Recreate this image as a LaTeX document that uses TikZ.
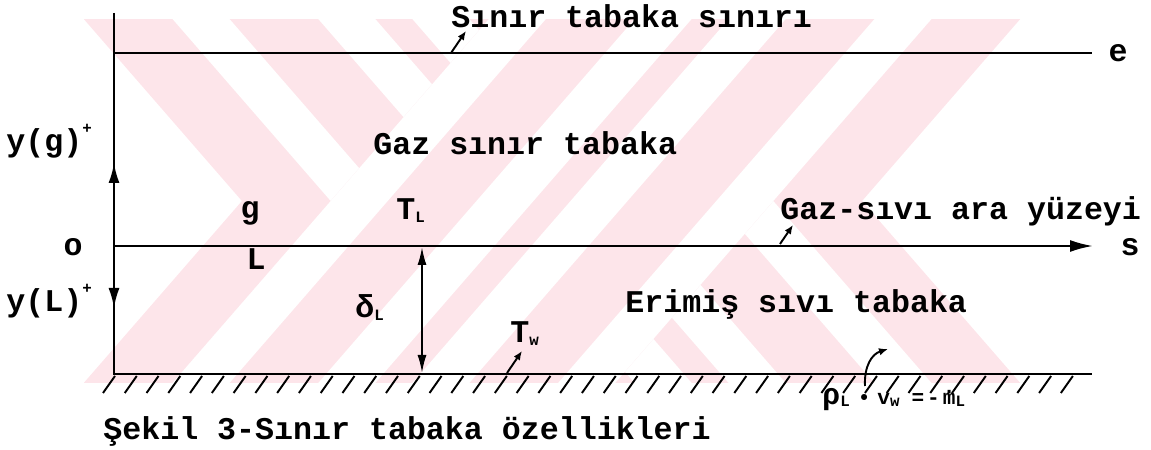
\documentclass[tikz,border=0pt]{standalone}
\usepackage{fontspec}
\setmonofont{Liberation Mono}
\usetikzlibrary{arrows.meta}
\definecolor{WMPink}{RGB}{253,229,234}
\newcommand\sbs[1]{\raisebox{-0.15ex}{\fontsize{9}{9}\selectfont #1}}
\newcommand\sps[1]{\raisebox{1.1ex}{\fontsize{9}{9}\selectfont #1}}
\newcommand\mdot{\ooalign{m\cr\hidewidth\raisebox{0.55em}{.}\hidewidth\cr}}

\begin{document}
\begin{tikzpicture}[x=0.2mm, y=-0.2mm,
  txt/.style={inner sep=0pt, font=\fontsize{18}{20}\selectfont\ttfamily\bfseries},
  small/.style={inner sep=0pt, font=\fontsize{12}{14}\selectfont\ttfamily\bfseries},
  axisline/.style={line width=1.3pt, draw=black},
  midup/.style={-{Latex[length=4mm,width=2.2mm]}, line width=1.3pt},
  sarrow/.style={-{Latex[length=4.6mm,width=2.4mm]}, line width=1.3pt},
  thick arr/.style={{Latex[length=3.6mm,width=1.8mm]}-{Latex[length=3.6mm,width=1.8mm]}, line width=1.1pt},
  lblarrow/.style={-{Latex[length=1.8mm,width=1.5mm]}, line width=1.1pt},
  hatchline/.style={line width=1.1pt},
  gap/.style={fill=white}
]
\useasboundingbox (0,0) rectangle (1151,450);

% watermark
\begin{scope}
  \clip (84,20) rectangle (1020,383);
  \begin{scope}[shift={(552,201)}, rotate=49]
    \fill[WMPink] (-700,-234) rectangle (700,-167);
    \fill[WMPink] (-700,167) rectangle (700,234);
  \end{scope}
  \begin{scope}[shift={(552,201)}, rotate=-49]
    \fill[WMPink] (-700,-234) rectangle (700,234);
    \foreach \a/\b in {-167/-124,-57/-14,14/57,124/167}
      \fill[gap] (-700,\a) rectangle (700,\b);
  \end{scope}
  \begin{scope}[shift={(552,201)}, rotate=49]
    \fill[WMPink] (-700,-167) rectangle (700,167);
    \foreach \a/\b in {-167/-124,-57/-14,14/57,124/167}
      \fill[gap] (-700,\a) rectangle (700,\b);
  \end{scope}
\end{scope}

\coordinate (O) at (114,246);
\coordinate (axtop) at (114,13);
\coordinate (ygTip) at (114,163);
\coordinate (yLTip) at (114,308);
\coordinate (wallL) at (114,374);
\coordinate (wallR) at (1092,374);
\coordinate (eL) at (114,53);
\coordinate (eR) at (1092,53);
\coordinate (sTip) at (1093,246);
\coordinate (dTop) at (422,247);
\coordinate (dBot) at (422,373);

% lines
\draw[axisline] (axtop) -- (wallL) -- (wallR);
\draw[line width=1.1pt] (eL) -- (eR);
\draw[sarrow] (O) -- (sTip);
\draw[midup] (O) -- (ygTip);
\draw[midup] (O) -- (yLTip);
\draw[thick arr] (dTop) -- (dBot);

% ground
\foreach \i in {0,...,44}
  \draw[hatchline] ({115+21.77*\i},376) -- ++(-12,17);

% labels
\node[txt, anchor=base west] (sinir) at (451,28) {Sınır tabaka sınırı};
\node[txt, anchor=base west] (gaz) at (373,155) {Gaz sınır tabaka};
\node[txt, anchor=base west] (yg) at (6,152) {y(g)\sps{+}};
\node[txt, anchor=base] (g) at (250,219) {g};
\node[txt, anchor=base west] (TL) at (396,220) {T\sbs{L}};
\node[txt] (o) at (73,247) {o};
\node[txt, anchor=base] (L) at (256,270) {L};
\node[txt, anchor=base west] (yL) at (6,312) {y(L)\sps{+}};
\node[txt, anchor=base west] (dL) at (355,318) {δ\sbs{L}};
\node[txt, anchor=base west] (erimis) at (625,313) {Erimiş sıvı tabaka};
\node[txt, anchor=base west] (Tw) at (510,343) {T\sbs{w}};
\node[txt, anchor=base west] (arayuz) at (780,220) {Gaz-sıvı ara yüzeyi};
\node[txt] (e) at (1118,53) {e};
\node[txt] (s) at (1130,247) {s};
\node[txt, anchor=base west] (sekil) at (103,440) {Şekil 3-Sınır tabaka özellikleri};
\node[small, anchor=base west] (rho) at (822,405)
  {{\fontsize{17}{17}\selectfont ρ}\sbs{L}\hspace{1.6mm}•\hspace{1.4mm}v\sbs{w}\hspace{2.4mm}=\hspace{0.6mm}-\hspace{0.6mm}\mdot\sbs{L}};

% pointers
\coordinate (sinirFoot) at (451,53);
\coordinate (sinirTip) at (466,31);
\coordinate (ayFoot) at (780,244);
\coordinate (ayTip) at (793,225);
\coordinate (TwFoot) at (507,373);
\coordinate (TwTip) at (522,351);
\coordinate (mFoot) at (865,386);
\coordinate (mTip) at (888,349);
\draw[lblarrow] (sinirFoot) -- (sinirTip);
\draw[lblarrow] (ayFoot) -- (ayTip);
\draw[lblarrow] (TwFoot) -- (TwTip);
\draw[lblarrow] (mFoot) .. controls (864,366) and (872,354) .. (mTip);
\end{tikzpicture}
\end{document}
